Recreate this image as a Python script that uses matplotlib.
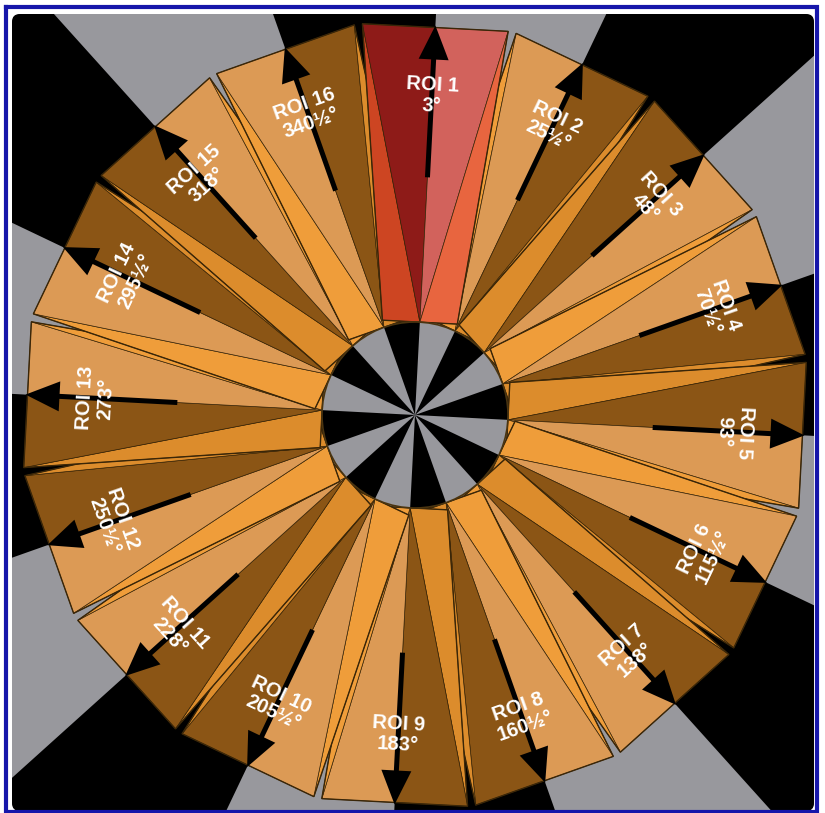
import numpy as np
import matplotlib
matplotlib.use("Agg")
import matplotlib.pyplot as plt
from matplotlib.patches import Polygon, Circle, FancyBboxPatch, FancyArrow

# ---------------- data ----------------
roi_names = ["ROI 1", "ROI 2", "ROI 3", "ROI 4", "ROI 5", "ROI 6", "ROI 7", "ROI 8",
             "ROI 9", "ROI 10", "ROI 11", "ROI 12", "ROI 13", "ROI 14", "ROI 15", "ROI 16"]
roi_angles = [3, 25.5, 48, 70.5, 93, 115.5, 138, 160.5,
              183, 205.5, 228, 250.5, 273, 295.5, 318, 340.5]
angle_labels = ["3°", "25½°", "48°", "70½°", "93°", "115½°", "138°", "160½°",
                "183°", "205½°", "228°", "250½°", "273°", "295½°", "318°", "340½°"]
highlight_roi = "ROI 1"

# ---------------- style ----------------
W, H = 825, 813
CX, CY = 415, 415
U_IN, U_OUT = 93.0, 388.0      # perpendicular distance of inner / outer edge
V_IN, V_OUT = 37.5, 73.0       # half widths of inner / outer edge
R_HUB = 93.0
GRAY = "#98989d"
BLACK = "#000000"
TAN = "#dc9a55"
BROWN = "#8b5515"
THIN_DARK = "#dc8c2c"
THIN_LIGHT = "#ef9d3a"
RED_DARK = "#8e1b18"
RED_LIGHT = "#d2625c"
RED_THIN_DARK = "#cd4522"
RED_THIN_LIGHT = "#e8653f"
EDGE = "#3a2608"

fig = plt.figure(figsize=(W / 100, H / 100), dpi=100)
ax = fig.add_axes([0, 0, 1, 1])
ax.set_xlim(0, W)
ax.set_ylim(H, 0)
ax.axis("off")
fig.patch.set_facecolor("white")


def pt(r, theta):
    t = np.deg2rad(theta)
    return (CX + r * np.sin(t), CY - r * np.cos(t))


def local(u, v, theta):
    t = np.deg2rad(theta)
    er = np.array([np.sin(t), -np.cos(t)])
    et = np.array([np.cos(t), np.sin(t)])
    p = np.array([CX, CY]) + u * er + v * et
    return (p[0], p[1])


def sector(r, a0, a1, n=30):
    return [(CX, CY)] + [pt(r, a) for a in np.linspace(a0, a1, n)]


# content frame with rounded corners
frame = FancyBboxPatch((12, 14), 802, 797, boxstyle="round,pad=0,rounding_size=8",
                       facecolor=GRAY, edgecolor="none", zorder=1)
ax.add_patch(frame)

# background pinwheel
for k in range(16):
    if k % 2 == 1:
        a0 = roi_angles[0] + 22.5 * k
        p = Polygon(sector(1400, a0, a0 + 22.5), closed=True, facecolor=BLACK,
                    edgecolor="none", zorder=2)
        ax.add_patch(p)
        p.set_clip_path(frame)

# ROI ring (highlighted ROI drawn last, on top)
order = [i for i in range(len(roi_names)) if roi_names[i] != highlight_roi] + \
        [i for i in range(len(roi_names)) if roi_names[i] == highlight_roi]
for z, i in enumerate(order):
    name, th = roi_names[i], roi_angles[i]
    IL, IC, IR = local(U_IN, -V_IN, th), local(U_IN, 0, th), local(U_IN, V_IN, th)
    OL, OC, OR = local(U_OUT, -V_OUT, th), local(U_OUT, 0, th), local(U_OUT, V_OUT, th)
    odd = (i % 2 == 0)
    if name == highlight_roi:
        dark, light, tdark, tlight = RED_DARK, RED_LIGHT, RED_THIN_DARK, RED_THIN_LIGHT
    else:
        dark, light, tdark, tlight = BROWN, TAN, THIN_DARK, THIN_LIGHT
    if odd:
        lmain, lthin, rmain, rthin = dark, tdark, light, tlight
    else:
        lmain, lthin, rmain, rthin = light, tlight, dark, tdark
    zb = 3 + z * 0.01
    tris = [([IL, IC, OL], lthin), ([IC, OC, OL], lmain),
            ([IC, OR, OC], rmain), ([IC, IR, OR], rthin)]
    for verts, col in tris:
        ax.add_patch(Polygon(verts, closed=True, facecolor=col, edgecolor=EDGE,
                             linewidth=0.5, zorder=zb))
    ax.add_patch(Polygon([IL, OL, OR, IR], closed=True, facecolor="none",
                         edgecolor=EDGE, linewidth=1.0, zorder=zb + 0.001))

# arrows
for th in roi_angles:
    x0, y0 = pt(238, th)
    x1, y1 = pt(390, th)
    ax.add_patch(FancyArrow(x0, y0, x1 - x0, y1 - y0, width=5, head_width=30,
                            head_length=34, length_includes_head=True,
                            facecolor="black", edgecolor="none", zorder=5))

# hub with pinwheel
ax.add_patch(Circle((CX, CY), R_HUB, facecolor=GRAY, edgecolor="none", zorder=6))
for k in range(16):
    if k % 2 == 1:
        a0 = roi_angles[0] + 22.5 * k
        ax.add_patch(Polygon(sector(R_HUB, a0, a0 + 22.5), closed=True,
                             facecolor=BLACK, edgecolor="none", zorder=6))
ax.add_patch(Circle((CX, CY), R_HUB, facecolor="none", edgecolor="#4a3410",
                    linewidth=1.2, zorder=7))

# labels
for name, th, lab in zip(roi_names, roi_angles, angle_labels):
    x, y = pt(320, th)
    rot = 180 - th if 100 < th < 260 else -th
    ax.text(x, y, f"{name}\n{lab}", rotation=rot, rotation_mode="anchor",
            ha="center", va="center", multialignment="center", linespacing=1.1,
            color="white", fontsize=14.5, fontweight="bold",
            family=["Liberation Sans", "DejaVu Sans"], zorder=8)

# blue window border
ax.plot([6, 817, 817, 6, 6], [7, 7, 811.5, 811.5, 7], color="#1616aa",
        linewidth=3, solid_joinstyle="miter", zorder=9)

fig.savefig("out.png", dpi=100, facecolor="white")
